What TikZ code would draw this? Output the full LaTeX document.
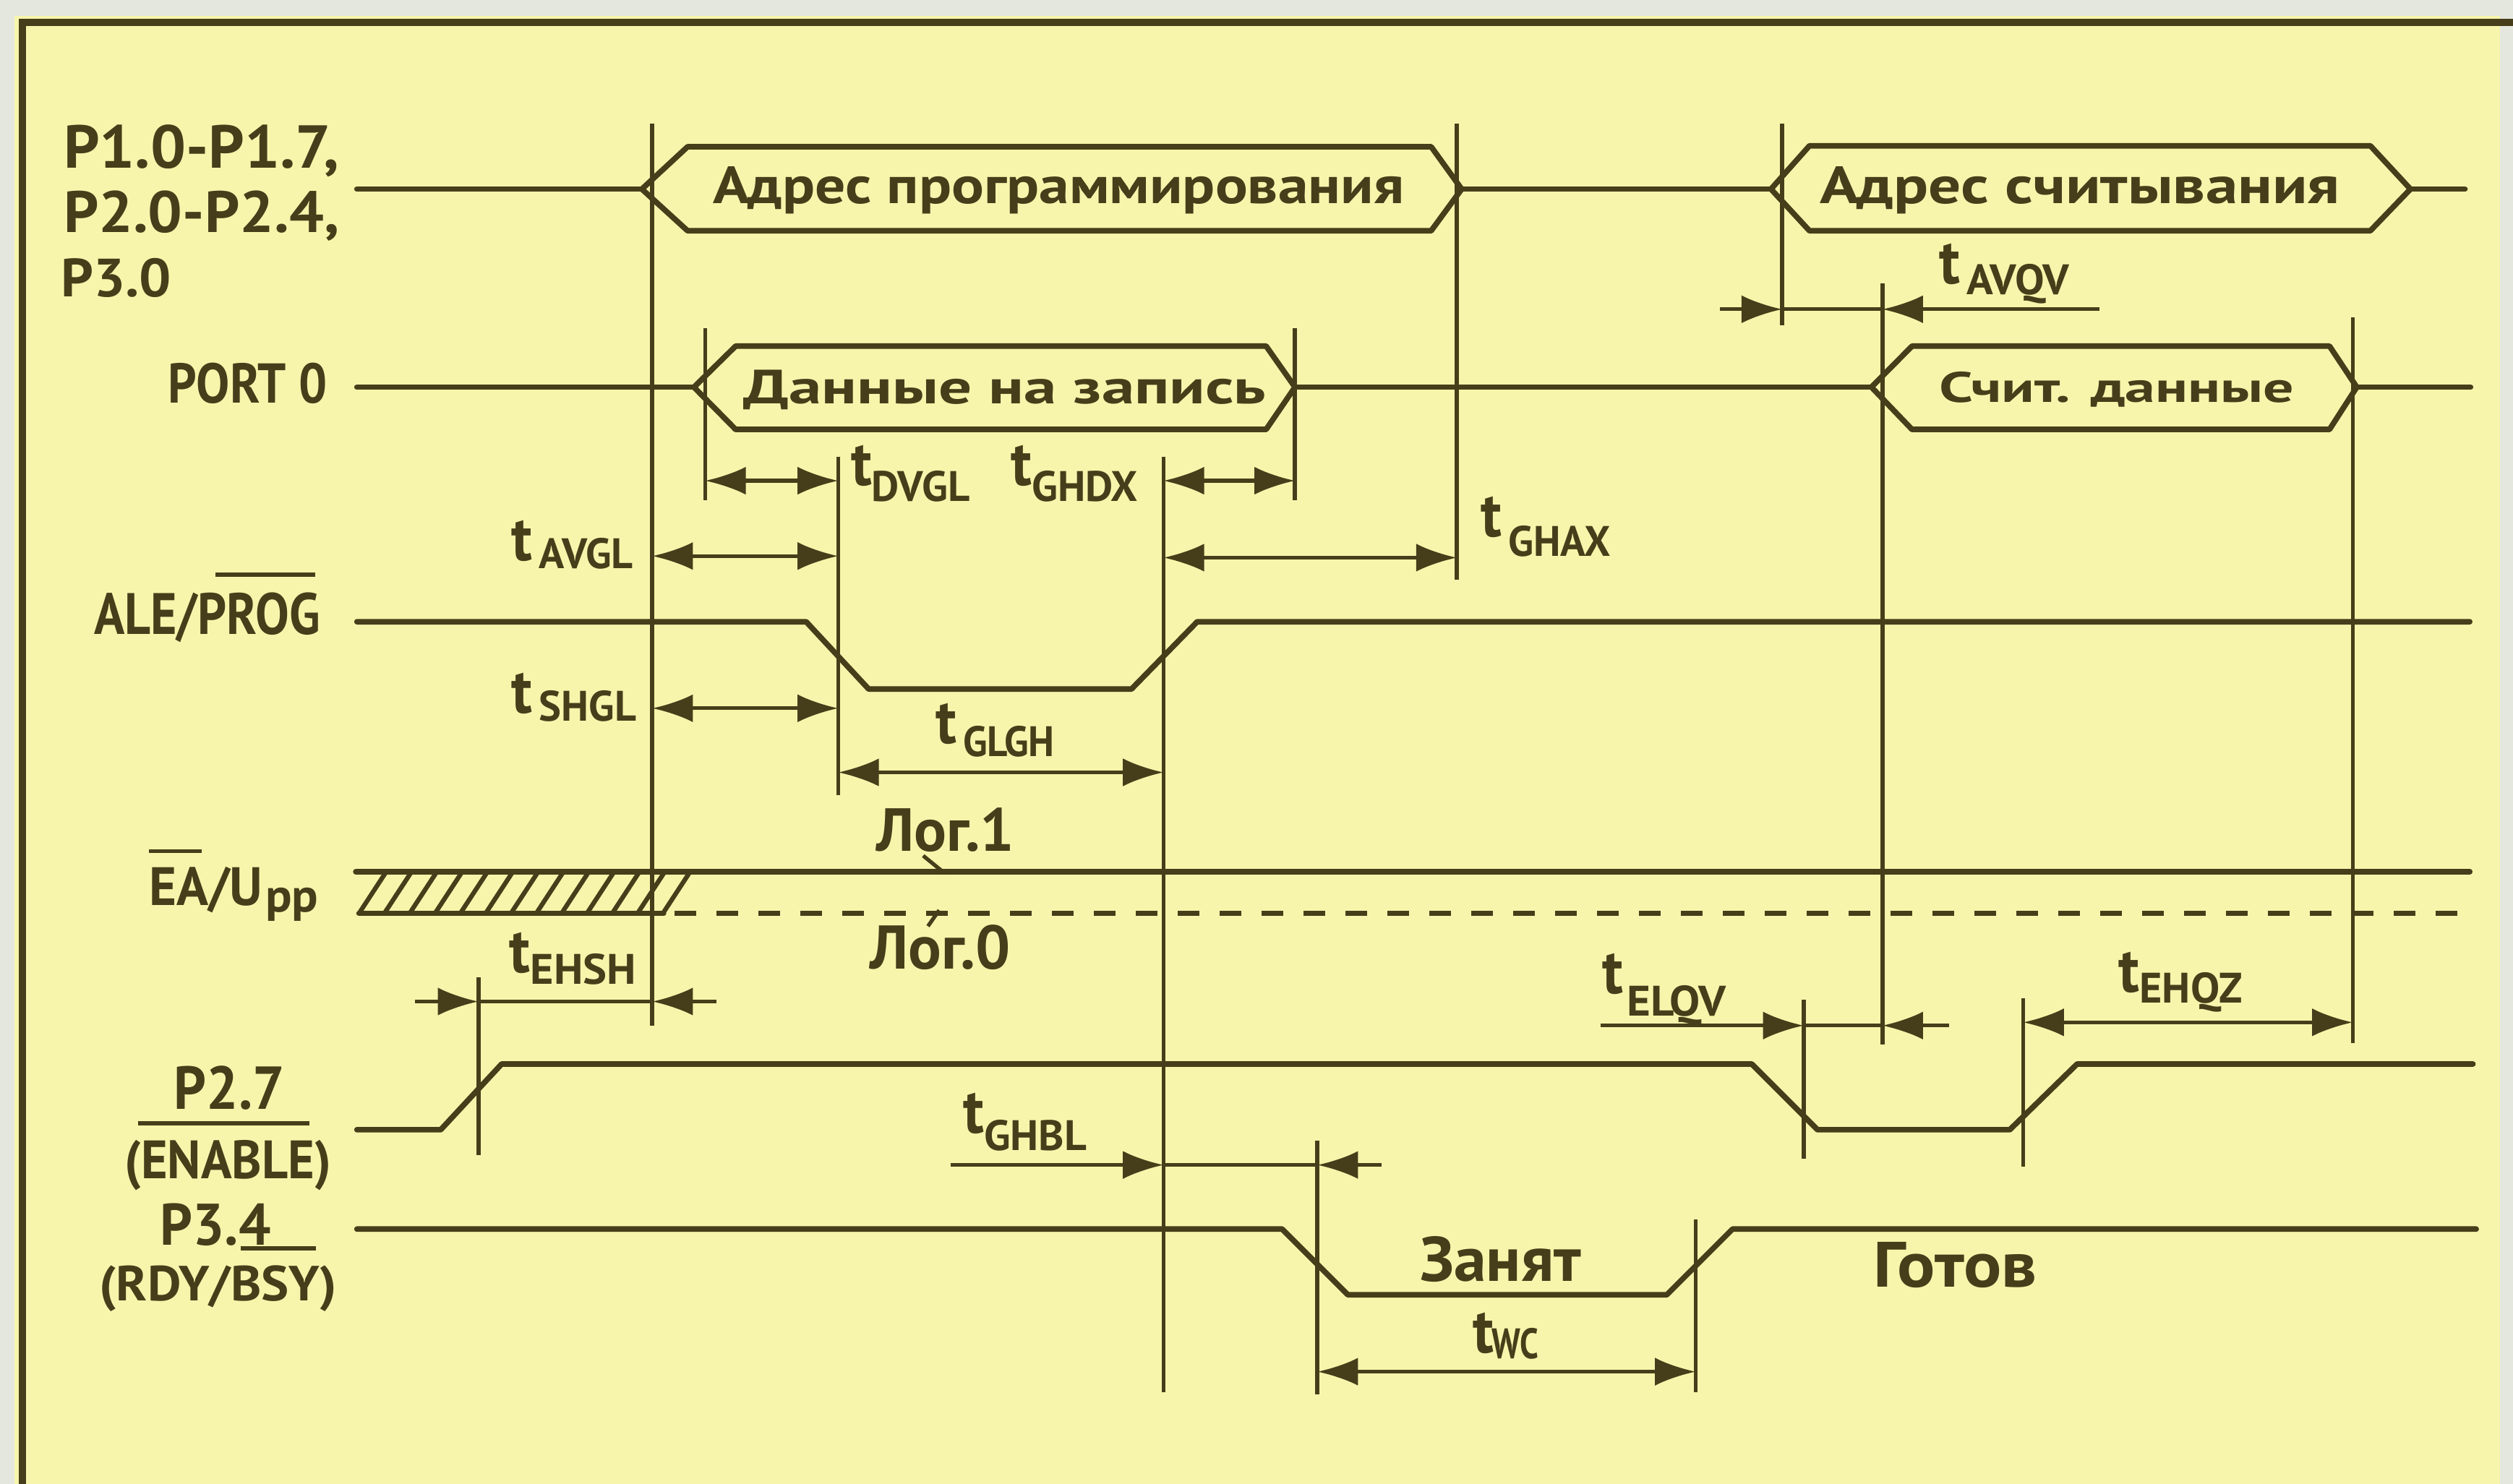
\documentclass[tikz,border=0pt]{standalone}
\usepackage{fontspec}
\setmainfont{PT Sans}
\usepackage{graphicx}
\usetikzlibrary{arrows.meta}
\definecolor{bg}{RGB}{247,245,172}
\definecolor{ink}{RGB}{70,62,26}
\definecolor{edge}{RGB}{228,231,222}
\newlength\du \setlength\du{0.2217mm}
\newcommand\fit[3]{\resizebox{#1\du}{#2\du}{#3}}
\newcommand\tlab[7]{%
  \node[txt] (#1t) at (#2,#3) {\fit{13}{25}{t}};
  \node[txt] (#1s) at (#5,#7) {\fit{#6}{19}{#4}};}
\begin{document}
\begin{tikzpicture}[x=0.2217mm,y=-0.2217mm,
  txt/.style={inner sep=0pt,outer sep=0pt,anchor=base west,text=ink,font=\bfseries},
  sig/.style={draw=ink,line width=2.2pt,line join=round,line cap=round},
  vl/.style={draw=ink,line width=1.6pt},
  dim/.style={draw=ink,line width=1.5pt},
  hatchline/.style={draw=ink,line width=1.8pt},
  >={Latex[length=16pt,width=11pt]}]
\useasboundingbox (0,0) rectangle (1568,926);
\fill[bg] (0,0) rectangle (1568,926);
\fill[edge] (0,0) rectangle (1568,10);
\fill[edge] (0,0) rectangle (9,926);
\fill[edge] (1560,0) rectangle (1568,926);
\draw[ink,line width=2.6pt] (1568,14) -- (14,14) -- (14,926);

% vertical reference lines
\draw[vl] (407,77) -- (407,640);
\draw[vl] (909,77) -- (909,362);
\draw[vl] (440,205) -- (440,312);
\draw[vl] (808,205) -- (808,312);
\draw[vl] (523,285) -- (523,496);
\draw[vl] (726,285) -- (726,869);
\draw[vl] (1112,77) -- (1112,203);
\draw[vl] (1174.5,177) -- (1174.5,652);
\draw[vl] (1468,198) -- (1468,651);
\draw[vl] (298.5,610) -- (298.5,721);
\draw[vl] (1125.4,624) -- (1125.4,723);
\draw[vl] (1262.4,623) -- (1262.4,728);
\draw[vl] (822,712) -- (822,870);
\draw[vl] (1058,761) -- (1058,869);

% buses
\draw[sig] (400.5,118) -- (429,91.6) -- (893,91.6) -- (912,118) -- (893,144) -- (429,144) -- cycle;
\draw[sig] (1105,118) -- (1129,91) -- (1479,91) -- (1504,118) -- (1479,144) -- (1129,144) -- cycle;
\draw[sig] (433,241.6) -- (459,216) -- (790,216) -- (808,241.6) -- (790,268) -- (459,268) -- cycle;
\draw[sig] (1167.7,241.6) -- (1193,216) -- (1453.5,216) -- (1470.5,241.6) -- (1453.5,268) -- (1193,268) -- cycle;

% signal lines
\draw[sig] (222.7,118) -- (400.5,118);
\draw[sig] (912,118) -- (1105,118);
\draw[sig] (1504,118) -- (1538,118);
\draw[sig] (222.7,241.6) -- (433,241.6);
\draw[sig] (808,241.6) -- (1167.7,241.6);
\draw[sig] (1470.5,241.6) -- (1541.5,241.6);
\draw[sig] (222.7,388) -- (503,388) -- (542,430) -- (706,430) -- (747,388) -- (1541,388);
\draw[sig] (222,544) -- (1541,544);
\draw[sig] (224,570) -- (414,570);
\draw[sig,line cap=butt,dash pattern=on 8.5pt off 8pt] (421,570) -- (1541,570);
\foreach \k in {0,...,12} \draw[hatchline] ({241+15.8*\k},544) -- ({224+15.8*\k},570);
\draw[sig] (222.7,705) -- (275,705) -- (313,664) -- (1093,664) -- (1134,705) -- (1254,705) -- (1296,664) -- (1543,664);
\draw[sig] (222.7,767) -- (800,767) -- (841,808) -- (1040,808) -- (1081,767) -- (1545,767);

% dimension arrows
\draw[dim,<->] (440,300) -- (523,300);
\draw[dim,<->] (726,300) -- (808,300);
\draw[dim,<->] (407,347) -- (523,347);
\draw[dim,<->] (726,348) -- (909,348);
\draw[dim,<->] (407,442) -- (523,442);
\draw[dim,<->] (523,482) -- (726,482);
\draw[dim,->] (259,625) -- (298.5,625);
\draw[dim] (298.5,625) -- (407,625);
\draw[dim,->] (447,625) -- (407,625);
\draw[dim,->] (1073,193) -- (1112,193);
\draw[dim] (1112,193) -- (1174.5,193);
\draw[dim,->] (1310,193) -- (1174.5,193);
\draw[dim,->] (998.6,640) -- (1125.4,640);
\draw[dim] (1125.4,640) -- (1174.5,640);
\draw[dim,->] (1216,640) -- (1174.5,640);
\draw[dim,<->] (1262.4,638) -- (1468,638);
\draw[dim,->] (593,727) -- (726,727);
\draw[dim] (726,727) -- (822,727);
\draw[dim,->] (862,727) -- (822,727);
\draw[dim,<->] (822,856) -- (1058,856);

% leaders
\draw[dim] (576,534) -- (589.5,545);
\draw[dim] (579,578) -- (586,568);

% signal names
\node[txt] (p1) at (39.7,104.7) {\fit{172}{27}{P1.0-P1.7,}};
\node[txt] (p2) at (39.7,145) {\fit{172}{26}{P2.0-P2.4,}};
\node[txt] (p3) at (38,185) {\fit{69}{24}{P3.0}};
\node[txt] (port) at (105,251.7) {\fit{99}{25}{PORT 0}};
\node[txt] (ale) at (58.7,395.9) {\fit{141}{26}{ALE/PROG}};
\draw[dim] (134.6,358.6) -- (196.7,358.6);
\node[txt] (ea) at (93,565) {\fit{71}{24}{EA/U}};
\node[txt] (pp) at (165.6,569) {\fit{33}{15}{pp}};
\draw[dim] (93,531) -- (126,531);
\node[txt] (p27) at (108.7,692) {\fit{69}{27}{P2.7}};
\node[txt] (en) at (77.7,735.7) {\fit{129}{24}{(ENABLE)}};
\draw[dim] (86,701) -- (193,701);
\node[txt] (p34) at (100,777) {\fit{69}{26}{P3.4}};
\node[txt] (rdy) at (62,811.7) {\fit{148}{22}{(RDY/BSY)}};
\draw[dim] (150,779) -- (197,779);

% bus texts
\node[txt] (b1) at (445,127) {\fit{431}{23}{Адрес программирования}};
\node[txt] (b2) at (1135.5,127) {\fit{324.5}{23}{Адрес считывания}};
\node[txt] (b3) at (464,252) {\fit{326}{21}{Данные на запись}};
\node[txt] (b4) at (1210,251) {\fit{221.5}{19}{Счит. данные}};

% level texts
\node[txt] (l1) at (547,531) {\fit{86}{27}{Лог.1}};
\node[txt] (l0) at (543,604.5) {\fit{87.6}{27.5}{Лог.0}};
\node[txt] (busy) at (886,799.7) {\fit{100.5}{28}{Занят}};
\node[txt] (ready) at (1169,803) {\fit{102}{28}{Готов}};

% timing labels
\tlab{avgl}{319}{349.6}{AVGL}{336.5}{58.5}{354.6}
\tlab{shgl}{319}{445}{SHGL}{336.5}{60.5}{450}
\tlab{dvgl}{531}{303}{DVGL}{544}{61}{313}
\tlab{ghdx}{631}{303}{GHDX}{644}{66}{313}
\tlab{ghax}{924}{335}{GHAX}{941}{64}{347}
\tlab{glgh}{584}{464}{GLGH}{601}{57}{472}
\tlab{ehsh}{318}{607}{EHSH}{331}{66}{614}
\tlab{avqv}{1210}{177}{AVQV}{1227}{64}{184}
\tlab{elqv}{1000}{620}{ELQV}{1015}{62}{634}
\tlab{ehqz}{1322}{619}{EHQZ}{1335}{64}{626}
\tlab{ghbl}{601}{707}{GHBL}{614}{64}{718}
\tlab{wc}{919}{844}{WC}{931}{29}{848}
\end{tikzpicture}
\end{document}
